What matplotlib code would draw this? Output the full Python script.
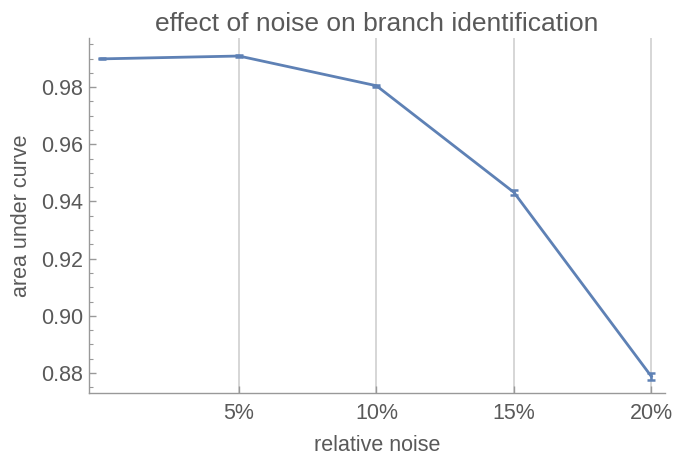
import matplotlib
matplotlib.use("Agg")
import matplotlib.pyplot as plt
from matplotlib.ticker import MultipleLocator, FixedLocator, FuncFormatter

noise = [0, 5, 10, 15, 20]
auc = [0.9899, 0.9909, 0.9805, 0.9432, 0.8788]
auc_err = [0.0002, 0.0003, 0.0004, 0.0009, 0.0012]
xtick_vals = [5, 10, 15, 20]

plt.rcParams['font.family'] = ['Liberation Sans', 'DejaVu Sans']
text_col = '#595959'
axis_col = '#999999'
line_col = '#5E81B5'

fig = plt.figure(figsize=(6.73, 4.58), dpi=100)
ax = fig.add_axes([0.1322, 0.142, 0.856, 0.775])

ax.errorbar(noise, auc, yerr=auc_err, color=line_col, lw=2.0,
            capsize=3, capthick=1.8, elinewidth=1.8)

ax.set_xlim(-0.46, 20.5)
ax.set_ylim(0.873, 0.9972)

ax.xaxis.set_major_locator(FixedLocator(xtick_vals))
ax.xaxis.set_major_formatter(FuncFormatter(lambda v, p: f'{v:.0f}%'))
ax.yaxis.set_major_locator(MultipleLocator(0.02))
ax.yaxis.set_minor_locator(MultipleLocator(0.005))
ax.yaxis.set_major_formatter(FuncFormatter(lambda v, p: f'{v:.2f}'))

for x in xtick_vals:
    ax.axvline(x, color='#cccccc', lw=1.1, zorder=0)

for s in ['top', 'right']:
    ax.spines[s].set_visible(False)
for s in ['left', 'bottom']:
    ax.spines[s].set_color(axis_col)
    ax.spines[s].set_linewidth(1.0)

ax.tick_params(axis='both', which='major', direction='in', length=5, width=1,
               color=axis_col, labelcolor=text_col, labelsize=15.5)
ax.tick_params(axis='x', which='major', pad=7)
ax.tick_params(axis='y', which='major', pad=4)
ax.tick_params(axis='y', which='minor', direction='in', length=3, width=0.8,
               color=axis_col)

ax.set_title('effect of noise on branch identification', fontsize=19,
             color=text_col, pad=5)
ax.set_xlabel('relative noise', fontsize=15.5, color=text_col, labelpad=8)
ax.set_ylabel('area under curve', fontsize=15.5, color=text_col, labelpad=7)

fig.savefig('out.png', dpi=100)
